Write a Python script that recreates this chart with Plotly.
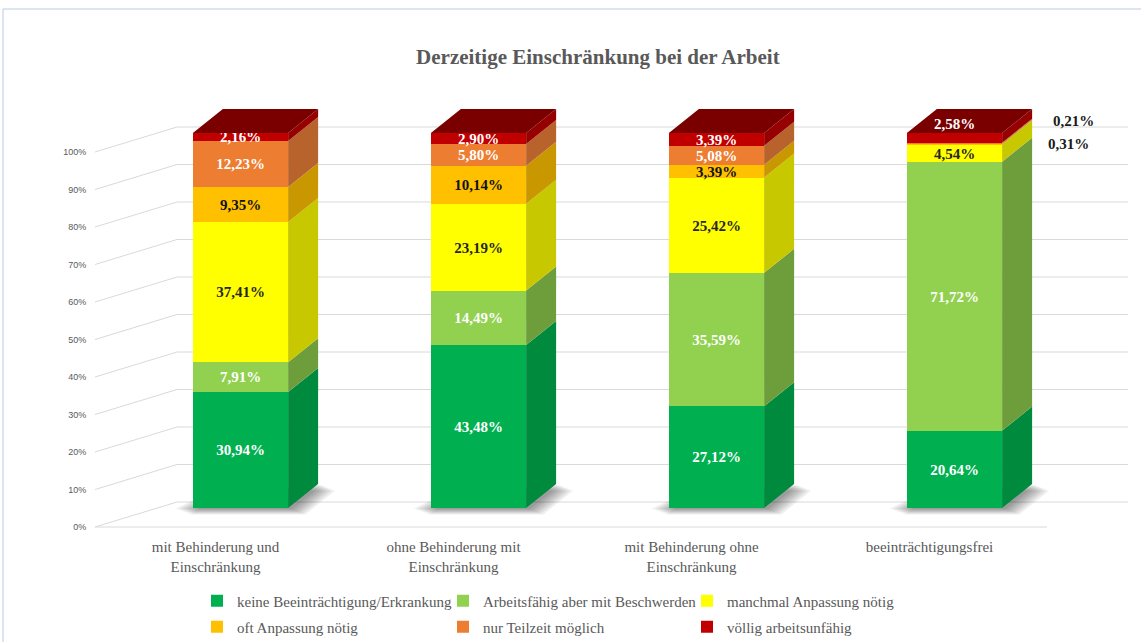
import plotly.graph_objects as go

# ---------------- data ----------------
categories = [
    "mit Behinderung und<br>Einschränkung",
    "ohne Behinderung mit<br>Einschränkung",
    "mit Behinderung ohne<br>Einschränkung",
    "beeinträchtigungsfrei",
]
series_names = [
    "keine Beeinträchtigung/Erkrankung",
    "Arbeitsfähig aber mit Beschwerden",
    "manchmal Anpassung nötig",
    "oft Anpassung nötig",
    "nur Teilzeit möglich",
    "völlig arbeitsunfähig",
]
keine = [30.94, 43.48, 27.12, 20.64]
arbeitsfaehig = [7.91, 14.49, 35.59, 71.72]
manchmal = [37.41, 23.19, 25.42, 4.54]
oft = [9.35, 10.14, 3.39, 0.31]
teilzeit = [12.23, 5.80, 5.08, 0.21]
voellig = [2.16, 2.90, 3.39, 2.58]
y_ticks = [0, 10, 20, 30, 40, 50, 60, 70, 80, 90, 100]
y_tick_labels = [f"{v}%" for v in y_ticks]
title_text = "Derzeitige Einschränkung bei der Arbeit"

series_values = [keine, arbeitsfaehig, manchmal, oft, teilzeit, voellig]

# ---------------- style ----------------
front_colors = ["#00B050", "#92D050", "#FFFF00", "#FFC000", "#ED7D31", "#C00000"]
side_colors = ["#008A3E", "#6E9E3C", "#C8C800", "#C99800", "#B8622C", "#960000"]
top_color = "#7A0000"
label_colors = ["#FFFFFF", "#FFFFFF", "#262626", "#111111", "#FFFFFF", "#FFFFFF"]
serif = "Liberation Serif"
gray = "#595959"

# geometry (pixels of the 1141x642 canvas)
L, R, T, B = 95, 1128, 100, 540
W, H = R - L, B - T
px_per_cat = 238.0
px_per_pct = 3.75
first_center_px = 240.5
front_zero_px = 508
x0 = -(first_center_px - L) / px_per_cat
x1 = x0 + W / px_per_cat
ylo = -(B - front_zero_px) / px_per_pct
yhi = ylo + H / px_per_pct
bar_w = 0.4
ddx = 30 / px_per_cat          # bar depth (x)
ddy = 24 / px_per_pct          # bar depth (y)
floor_front = -(527 - front_zero_px) / px_per_pct
wall_off = floor_front + 25 / px_per_pct
wall_x = x0 + 82 / px_per_cat
floor_end = x0 + (1047 - L) / px_per_cat
label_shift = 25 / px_per_cat

xs = list(range(len(categories)))

def fmt(v):
    return f"{v:.2f}%".replace(".", ",")

# labels that sit outside the bars in the reference: (series, category) -> (dx, yshift)
outside = {(3, 3): (0.48, 0), (4, 3): (0.50, 22), (5, 3): (0.0, 14)}

fig = go.Figure()

# front faces (stacked bars)
for si, (name, vals) in enumerate(zip(series_names, series_values)):
    texts = ["" if (si, ci) in outside else fmt(v) for ci, v in enumerate(vals)]
    fig.add_trace(go.Bar(
        x=xs, y=vals, name=name, width=bar_w,
        marker=dict(color=front_colors[si], line=dict(width=0)),
        text=texts, textposition="inside", insidetextanchor="middle", textangle=0,
        textfont=dict(family=serif, size=15, color=label_colors[si], weight="bold"),
        legend="legend" if si == 0 else f"legend{si + 1}",
        hoverinfo="skip",
    ))

# side faces and top faces, computed from the stacked values
for ci in xs:
    xr = ci + bar_w / 2
    xl = ci - bar_w / 2
    base = 0.0
    for si, vals in enumerate(series_values):
        top = base + vals[ci]
        fig.add_trace(go.Scatter(
            x=[xr, xr, xr + ddx, xr + ddx, xr],
            y=[base, top, top + ddy, base + ddy, base],
            fill="toself", fillcolor=side_colors[si], mode="lines",
            line=dict(width=0, color=side_colors[si]),
            showlegend=False, hoverinfo="skip",
        ))
        base = top
    fig.add_trace(go.Scatter(
        x=[xl, xr, xr + ddx, xl + ddx, xl],
        y=[base, base, base + ddy, base + ddy, base],
        fill="toself", fillcolor=top_color, mode="lines",
        line=dict(width=0, color=top_color),
        showlegend=False, hoverinfo="skip",
    ))

# outside / moved labels
annotations = []
for (si, ci), (dxl, ysh) in outside.items():
    below = sum(series_values[k][ci] for k in range(si))
    yc = below + series_values[si][ci] / 2
    annotations.append(dict(
        x=ci + dxl, y=yc, xref="x", yref="y", text=fmt(series_values[si][ci]),
        showarrow=False, yshift=ysh,
        font=dict(family=serif, size=15, weight="bold",
                  color=label_colors[si] if dxl == 0 else "#1a1a1a"),
    ))

# helper trace for the overlaid label axes
fig.add_trace(go.Scatter(x=[0], y=[0], xaxis="x2", yaxis="y2", mode="markers",
                         marker=dict(opacity=0), showlegend=False, hoverinfo="skip"))

# gridlines (back wall + side wall) and floor edge
shapes = []
for v in y_ticks:
    shapes.append(dict(
        type="path", xref="x", yref="y", layer="below",
        path=f"M {x0} {v + floor_front} L {wall_x} {v + wall_off} L {x1} {v + wall_off}",
        line=dict(color="#D9D9D9", width=1),
    ))
shapes.append(dict(type="line", xref="x", yref="y", layer="below",
                   x0=x0, x1=floor_end, y0=floor_front, y1=floor_front,
                   line=dict(color="#D9D9D9", width=1)))

# soft floor shadows under the bars (drawn below the bars)
for ci in xs:
    xl, xr = ci - bar_w / 2, ci + bar_w / 2
    for k in range(7):
        sx, sy = 4 + 2.2 * k, 1 + 0.9 * k
        dxs, dys = sx / px_per_cat, sy / px_per_pct
        spread = (7 - k) * 2.5 / px_per_cat
        shapes.append(dict(
            type="path", xref="x", yref="y", layer="below",
            path=(f"M {xl - spread} {-dys} L {xr + dxs} {-dys} "
                  f"L {xr + ddx + dxs} {ddy - dys} L {xl + ddx} {ddy - dys} Z"),
            fillcolor="rgba(0,0,0,0.065)", line=dict(width=0),
        ))

# chart frame
shapes.append(dict(type="rect", xref="paper", yref="paper",
                   x0=(3 - L) / W, x1=(1160 - L) / W, y0=(B - 660) / H, y1=(B - 9) / H,
                   line=dict(color="#B9CBE4", width=1)))

# legends: one per entry, laid out in 2 rows x 3 columns
legend_cols_px = [197, 443, 687]
legend_rows_px = [601, 627]
legend_layout = {}
for i in range(6):
    key = "legend" if i == 0 else f"legend{i + 1}"
    col, row = i % 3, i // 3
    legend_layout[key] = dict(
        x=(legend_cols_px[col] - L) / W, y=(B - legend_rows_px[row]) / H,
        xanchor="left", yanchor="middle", orientation="h",
        bgcolor="rgba(0,0,0,0)", borderwidth=0,
        font=dict(family=serif, size=15, color=gray),
    )

fig.update_layout(
    width=1141, height=642,
    margin=dict(l=L, r=1141 - R, t=T, b=642 - B, autoexpand=False),
    paper_bgcolor="white", plot_bgcolor="white",
    barmode="stack", bargap=0,
    uniformtext=dict(minsize=15, mode="show"),
    title=dict(text=title_text, x=0.524, xanchor="center", y=1 - 57 / 642, yanchor="middle",
               font=dict(family=serif, size=21, color=gray, weight="bold")),
    xaxis=dict(range=[x0, x1], showgrid=False, zeroline=False, showticklabels=False,
               showline=False, fixedrange=True),
    yaxis=dict(range=[ylo, yhi], showgrid=False, zeroline=False, showticklabels=False,
               showline=False, fixedrange=True),
    xaxis2=dict(overlaying="x", range=[x0 + label_shift, x1 + label_shift],
                tickmode="array", tickvals=xs, ticktext=categories,
                showgrid=False, zeroline=False, showline=False, side="bottom",
                tickfont=dict(family=serif, size=15, color=gray),
                ticks="", ticklabelstandoff=-4, fixedrange=True),
    yaxis2=dict(overlaying="y", range=[ylo - floor_front, yhi - floor_front],
                tickmode="array", tickvals=y_ticks, ticktext=y_tick_labels,
                showgrid=False, zeroline=False, showline=False, side="left",
                ticks="outside", ticklen=6, tickcolor="rgba(0,0,0,0)", fixedrange=True,
                tickfont=dict(family="Liberation Sans", size=9, color=gray)),
    shapes=shapes,
    annotations=annotations,
    **legend_layout,
)

fig.write_html("out.html", config={"displayModeBar": False},
               post_script="document.body.style.margin='0';")
